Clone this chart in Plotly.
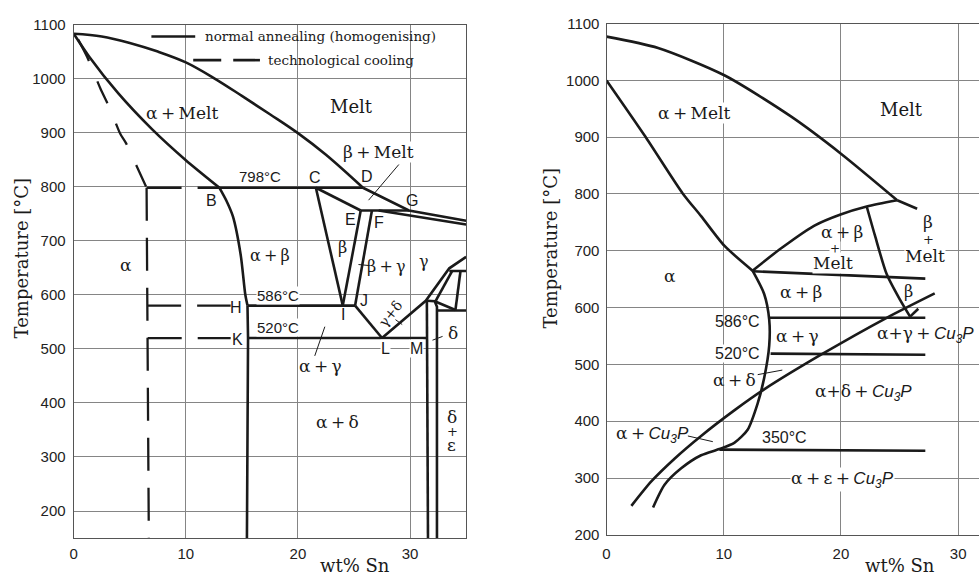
import plotly.graph_objects as go

W, H = 979, 580
SERIF = "DejaVu Serif"
SANS = "Liberation Sans"
INK = "#1a1a1a"

# ---------------- LEFT DIAGRAM DATA (wt% Sn, temperature degC) ----------------
liq_AD_wt = [0, 2.5, 5, 7.5, 10, 12.5, 15, 17.5, 20, 22.5, 25.8]
liq_AD_T = [1083, 1078, 1066, 1050, 1030, 1001, 968, 934, 899, 859, 798]
liq_DG_wt = [25.8, 29.9, 35]
liq_DG_T = [798, 756, 737]
sol_AB_wt = [0, 1.4, 4, 7, 10, 13]
sol_AB_T = [1083, 1040, 972, 906, 849, 798]
solvus_BH_wt = [13, 13.6, 14.2, 14.9, 15.3, 15.5]
solvus_BH_T = [798, 775, 745, 673, 601, 580]
solvus_H_bottom_wt = [15.5, 15.55, 15.45]
solvus_H_bottom_T = [580, 520, 150]
iso798_wt = [13, 25.8]
iso798_T = [798, 798]
CE_wt = [21.6, 25.6]
CE_T = [798, 756]
EG_wt = [25.6, 29.9]
EG_T = [756, 756]
F_right_wt = [27.2, 35]
F_right_T = [756, 730]
CI_wt = [21.6, 24.0]
CI_T = [798, 580]
EI_wt = [25.6, 24.0]
EI_T = [756, 580]
FJ_wt = [26.6, 25.1]
FJ_T = [756, 580]
HJ_wt = [15.5, 25.1]
HJ_T = [580, 580]
JL_wt = [25.1, 27.5]
JL_T = [580, 520]
L_up_wt = [27.5, 31.4, 33.5, 34.2, 35]
L_up_T = [520, 589, 649, 659, 670]
KM_wt = [15.5, 31.5]
KM_T = [520, 520]
delta_left_wt = [31.5, 31.6]
delta_left_T = [589, 150]
delta_right_wt = [31.5, 32.2, 32.4, 32.4]
delta_right_T = [589, 588, 578, 150]
h644_wt = [33.5, 35]
h644_T = [644, 644]
g1_wt = [33.75, 32.3]
g1_T = [644, 589]
g2_wt = [34.5, 34.05]
g2_T = [644, 572]
g3_wt = [32.2, 34.05]
g3_T = [588, 572]
h571_wt = [32.4, 35]
h571_T = [571, 571]
# technological cooling (dashed)
cool_curve_wt = [0.4, 1.2, 2.37, 3.26, 4.15, 4.65, 5.62, 6.5]
cool_curve_T = [1072, 1040, 982, 943, 898, 881, 838, 798]
cool_vert_wt = [6.5, 6.7]
cool_vert_T = [798, 150]
cool_798_wt = [6.5, 13]
cool_798_T = [798, 798]
cool_586_wt = [6.55, 14.0]
cool_586_T = [580, 580]
cool_520_wt = [6.6, 14.0]
cool_520_T = [520, 520]
# leader lines
lead_L = [
    ([29.0, 26.3], [841, 775]),
    ([25.4, 26.4], [656, 654]),
    ([28.7, 29.3], [554, 545]),
    ([22.4, 21.5], [541, 487]),
    ([32.0, 32.9], [516, 523]),
]

# ---------------- RIGHT DIAGRAM DATA ----------------
r_liq_wt = [0, 4.4, 10.05, 15.7, 20, 24.8]
r_liq_T = [1077, 1057, 1009, 937, 871, 789]
r_liq_tail_wt = [24.8, 26.5]
r_liq_tail_T = [789, 774]
r_sol_wt = [0, 3.25, 6.5, 8.07, 10.05, 12.46]
r_sol_T = [1000, 903, 801, 761, 709, 665]
r_solvus_wt = [12.46, 13.45, 13.88, 13.88, 13.45, 12.89, 12.04, 10.9, 9.63, 8.07, 6.37, 4.95, 3.97]
r_solvus_T = [665, 624, 579, 533, 476, 431, 385, 362, 351, 340, 317, 288, 248]
r_cu3p_wt = [2.12, 3.82, 5.8, 8.07, 10.9, 13.45, 18.3, 23.9, 28.0]
r_cu3p_T = [251, 294, 334, 374, 419, 456, 517, 582, 625]
r_abm_wt = [12.46, 14.87, 17.7, 19.97, 22.2, 24.8]
r_abm_T = [665, 704, 744, 764, 778, 789]
r_beta_wt = [22.2, 22.9, 23.9, 25.06, 25.9]
r_beta_T = [778, 727, 659, 613, 584]
r_beta_tick_wt = [25.9, 26.6]
r_beta_tick_T = [584, 598]
r_h650_wt = [12.46, 27.2]
r_h650_T = [664, 651]
r_h586_wt = [13.9, 27.2]
r_h586_T = [582, 582]
r_h520_wt = [14.0, 27.2]
r_h520_T = [519, 517]
r_h350_wt = [9.63, 27.2]
r_h350_T = [350, 348]
lead_R = [
    ([12.9, 15.0], [482, 490]),
    ([6.94, 9.07], [374, 364]),
]

fig = go.Figure()


def line(x, y, axis=1, width=2.6, dash="solid", spline=False, color=INK, smooth=0.7):
    xa, ya = ("x", "y") if axis == 1 else ("x2", "y2")
    fig.add_trace(go.Scatter(
        x=x, y=y, mode="lines", xaxis=xa, yaxis=ya, showlegend=False,
        hoverinfo="skip",
        line=dict(color=color, width=width, dash=dash,
                  shape="spline" if spline else "linear",
                  smoothing=smooth if spline else None)))


# left solid lines
line(liq_AD_wt, liq_AD_T, spline=True, smooth=1.0)
line(liq_DG_wt, liq_DG_T)
line(sol_AB_wt, sol_AB_T, spline=True)
line(solvus_BH_wt, solvus_BH_T, spline=True)
line(solvus_H_bottom_wt, solvus_H_bottom_T)
for xs, ys in [(iso798_wt, iso798_T), (CE_wt, CE_T), (EG_wt, EG_T), (F_right_wt, F_right_T),
               (CI_wt, CI_T), (EI_wt, EI_T), (FJ_wt, FJ_T), (HJ_wt, HJ_T), (JL_wt, JL_T),
               (L_up_wt, L_up_T), (KM_wt, KM_T), (delta_left_wt, delta_left_T),
               (delta_right_wt, delta_right_T), (h644_wt, h644_T), (g1_wt, g1_T),
               (g2_wt, g2_T), (g3_wt, g3_T), (h571_wt, h571_T)]:
    line(xs, ys)
# left dashed lines
line(cool_curve_wt, cool_curve_T, dash="24px,22px", spline=True, width=2.3)
line(cool_vert_wt, cool_vert_T, dash="33px,17px", width=2.3)
line(cool_798_wt, cool_798_T, dash="35px,16px", width=2.3)
line(cool_586_wt, cool_586_T, dash="34px,16px", width=2.3)
line(cool_520_wt, cool_520_T, dash="34px,16px", width=2.3)
for xs, ys in lead_L:
    line(xs, ys, width=1)

# right lines
line(r_liq_wt, r_liq_T, axis=2, spline=True)
line(r_liq_tail_wt, r_liq_tail_T, axis=2)
line(r_sol_wt, r_sol_T, axis=2, spline=True)
line(r_solvus_wt, r_solvus_T, axis=2, spline=True)
line(r_cu3p_wt, r_cu3p_T, axis=2, spline=True)
line(r_abm_wt, r_abm_T, axis=2, spline=True)
line(r_beta_wt, r_beta_T, axis=2, spline=True)
for xs, ys in [(r_beta_tick_wt, r_beta_tick_T), (r_h650_wt, r_h650_T), (r_h586_wt, r_h586_T),
               (r_h520_wt, r_h520_T), (r_h350_wt, r_h350_T)]:
    line(xs, ys, axis=2)
for xs, ys in lead_R:
    line(xs, ys, axis=2, width=1)

annotations = []


def lab(text, x, y, axis=1, size=17, font=SERIF, bg=None, xanchor="center", angle=0):
    xa, ya = ("x", "y") if axis == 1 else ("x2", "y2")
    d = dict(text=text, x=x, y=y, xref=xa, yref=ya, showarrow=False,
             font=dict(family=font, size=size, color=INK), xanchor=xanchor,
             yanchor="middle", borderpad=0, textangle=angle)
    if bg:
        d["bgcolor"] = bg
    annotations.append(d)


T = "\u2009"
CU3P = '<span style="font-family:Liberation Sans"><i>Cu<sub>3</sub>P</i></span>'

# left labels
lab("A", 1.0, 1102, font=SANS, size=16, bg="white")
lab("798°C", 16.6, 819, font=SANS, size=15)
for t, x, y in [("B", 12.3, 775), ("C", 21.55, 817), ("D", 26.2, 818), ("G", 30.2, 774),
                ("E", 24.7, 740), ("F", 27.2, 733), ("H", 14.5, 577), ("I", 24.0, 563),
                ("J", 25.85, 589), ("K", 14.6, 518)]:
    lab(t, x, y, font=SANS, size=16)
lab("L", 27.8, 500, font=SANS, size=16, bg="white")
lab("M", 30.6, 500, font=SANS, size=16, bg="white")
lab("586°C", 18.2, 599, font=SANS, size=15, bg="white")
lab("520°C", 18.2, 539, font=SANS, size=15, bg="white")
lab(f"α{T}+{T}Melt", 9.7, 937, size=17)
lab("Melt", 24.8, 949, size=18)
lab(f"β{T}+{T}Melt", 27.2, 865, size=17, bg="white")
lab("α", 4.7, 655, size=17)
lab(f"α{T}+{T}β", 17.5, 673, size=16)
lab("β", 24.0, 688, size=16)
lab(f"β{T}+{T}γ", 27.9, 652, size=16)
lab("γ", 31.2, 661, size=16)
lab("γ+δ", 28.3, 566, size=14, angle=-52)
lab("δ", 33.8, 529, size=17)
lab(f"α{T}+{T}γ", 22.05, 469, size=17)
lab(f"α{T}+{T}δ", 23.5, 364, size=17)
lab("δ", 33.75, 373, size=17)
lab("+", 33.75, 347, size=13)
lab("ε", 33.7, 322, size=17)

# right labels
lab(f"α{T}+{T}Melt", 7.5, 943, axis=2, size=17, bg="white")
lab("Melt", 25.2, 949, axis=2, size=18)
lab("α", 5.38, 655, axis=2, size=17)
lab(f"α{T}+{T}β", 20.1, 733, axis=2, size=17)
lab("+", 19.5, 703, axis=2, size=12, bg="white")
lab("Melt", 19.34, 679, axis=2, size=17, bg="white")
lab("β", 27.47, 750, axis=2, size=17)
lab("+", 27.47, 719, axis=2, size=13)
lab("Melt", 27.2, 690, axis=2, size=17, bg="white")
lab(f"α{T}+{T}β", 16.6, 627, axis=2, size=17)
lab("β", 25.8, 629, axis=2, size=16)
lab("586°C", 13.2, 576, axis=2, font=SANS, size=16, xanchor="right")
lab("520°C", 13.2, 519, axis=2, font=SANS, size=16, xanchor="right", bg="white")
lab(f"α{T}+{T}γ", 16.3, 550, axis=2, size=17)
lab(f"α+γ{T}+{T}" + CU3P, 27.2, 553, axis=2, size=17)
lab(f"α{T}+{T}δ", 10.95, 473, axis=2, size=17)
lab(f"α+δ{T}+{T}" + CU3P, 21.9, 451, axis=2, size=17)
lab(f"α{T}+{T}" + CU3P, 3.9, 377, axis=2, size=17)
lab("350°C", 15.15, 371, axis=2, font=SANS, size=16)
lab(f"α{T}+{T}ε{T}+{T}" + CU3P, 20.1, 297, axis=2, size=17, bg="white")


def P(px, py):
    return px / W, 1 - py / H


# axis titles
for txt, (px, py), ang in [("Temperature [°C]", (18, 257), -90), ("Temperature [°C]", (549, 247), -90),
                           ("wt% Sn", (352, 573), 0), ("wt% Sn", (900, 573), 0)]:
    x, y = P(px, py)
    annotations.append(dict(text=txt, x=x, y=y, xref="paper", yref="paper", showarrow=False,
                            textangle=ang, xanchor="center", yanchor="middle",
                            font=dict(family=SERIF, size=18, color=INK)))

# legend (drawn manually)
shapes = []
for (x0, y0, x1, y1) in [(178, 17, 190, 48), (190, 17, 445, 70)]:
    a0, b0 = P(x0, y1)
    a1, b1 = P(x1, y0)
    shapes.append(dict(type="rect", xref="paper", yref="paper", x0=a0, y0=b0, x1=a1, y1=b1,
                       fillcolor="white", line=dict(width=0), layer="between"))
a0, b0 = P(148, 28.3)
a1, _ = P(192, 28.3)
shapes.append(dict(type="line", xref="paper", yref="paper", x0=a0, x1=a1, y0=b0, y1=b0,
                   line=dict(color=INK, width=2.6)))
a0, b0 = P(190, 52.7)
a1, _ = P(257, 52.7)
shapes.append(dict(type="line", xref="paper", yref="paper", x0=a0, x1=a1, y0=b0, y1=b0,
                   line=dict(color=INK, width=2.6, dash="28px,12px")))
for txt, (px, py) in [("normal annealing (homogenising)", (200, 28)),
                      ("technological cooling", (263, 52.7))]:
    x, y = P(px, py)
    annotations.append(dict(text=txt, x=x, y=y, xref="paper", yref="paper", showarrow=False,
                            xanchor="left", yanchor="middle",
                            font=dict(family=SERIF, size=13.5, color=INK)))

GRID = "#858585"
axis_common = dict(showgrid=True, gridcolor=GRID, gridwidth=1, zeroline=False, showline=True,
                   linecolor="#555", linewidth=1.2, ticks="",
                   tickfont=dict(family=SANS, size=15, color="#222"))

fig.update_layout(
    width=W, height=H, margin=dict(l=0, r=0, t=0, b=0),
    paper_bgcolor="white", plot_bgcolor="white", showlegend=False,
    xaxis=dict(domain=[70 / W, 464 / W], range=[0, 35], tick0=0, dtick=10, anchor="y",
               mirror=True, ticklabelstandoff=2, **axis_common),
    yaxis=dict(domain=[1 - 545 / H, 1 - 16 / H], range=[150, 1100], tick0=0, dtick=100,
               anchor="x", mirror=True, ticklabelstandoff=4, **axis_common),
    xaxis2=dict(domain=[605 / W, 1.0], range=[0, 31.78], tick0=0, dtick=10, anchor="y2",
                mirror=True, ticklabelstandoff=5, **axis_common),
    yaxis2=dict(domain=[1 - 541.7 / H, 1 - 15 / H], range=[200, 1100], tick0=0, dtick=100,
                anchor="x2", mirror=False, ticklabelstandoff=3, **axis_common),
    annotations=annotations, shapes=shapes,
)

fig.write_html("out.html")
